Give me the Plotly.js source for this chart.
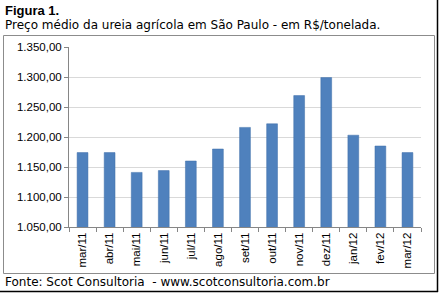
<!DOCTYPE html>
<html>
<head>
<meta charset="utf-8">
<script src="https://cdn.plot.ly/plotly-3.0.1.min.js"></script>
<style>
html,body{margin:0;padding:0;background:#fff;}
#chart{width:440px;height:293px;}
</style>
</head>
<body>
<div id="chart"></div>
<script>
var categories = ["mar/11","abr/11","mai/11","jun/11","jul/11","ago/11","set/11","out/11","nov/11","dez/11","jan/12","fev/12","mar/12"];
var prices = [1174, 1174, 1141, 1144, 1160, 1180, 1216, 1222, 1269, 1299, 1203, 1185, 1174];
var yTicks = [1050, 1100, 1150, 1200, 1250, 1300, 1350];
var figTitle = "Figura 1.";
var subTitle = "Preço médio da ureia agrícola em São Paulo - em R$/tonelada.";
var source = "Fonte: Scot Consultoria  - www.scotconsultoria.com.br";

// plot area in pixels: x 69..421, y 47..227
function px(x){ return (x - 69) / 352; }
function py(y){ return (227 - y) / 180; }

var trace = {
  type: "bar",
  x: categories,
  y: prices,
  marker: {color: "#4f81bd", line: {color: "#3f6fa8", width: 0.5}},
  hoverinfo: "x+y"
};

var layout = {
  width: 440, height: 293,
  margin: {l: 69, r: 19, t: 47, b: 66, pad: 0},
  paper_bgcolor: "#ffffff",
  plot_bgcolor: "#ffffff",
  separators: ",.",
  bargap: 0.6,
  showlegend: false,
  font: {family: "Liberation Sans, Arial, sans-serif", size: 11, color: "#000"},
  xaxis: {
    type: "category",
    tickson: "boundaries",
    ticks: "outside", ticklen: 4, tickcolor: "#868686",
    showline: true, linecolor: "#868686", linewidth: 1,
    showgrid: false,
    tickangle: -90,
    tickfont: {family: "Liberation Sans, Arial, sans-serif", size: 11.5, color: "#000"},
    automargin: false
  },
  yaxis: {
    range: [1050, 1350],
    tickvals: yTicks,
    tickformat: ",.2f",
    ticks: "outside", ticklen: 4, tickcolor: "#868686",
    showline: true, linecolor: "#868686", linewidth: 1,
    showgrid: true, gridcolor: "#d9d9d9", gridwidth: 1,
    zeroline: false,
    tickfont: {family: "Liberation Sans, Arial, sans-serif", size: 11.5, color: "#000"},
    automargin: false
  },
  shapes: [
    {type: "rect", xref: "paper", yref: "paper",
     x0: px(3.5), x1: px(434.5), y0: py(273.5), y1: py(35.5),
     line: {color: "#8c8c8c", width: 1}, fillcolor: "rgba(0,0,0,0)", layer: "below"},
    {type: "line", xref: "paper", yref: "paper",
     x0: px(437.5), x1: px(437.5), y0: py(0), y1: py(292),
     line: {color: "#000", width: 1.5}},
    {type: "line", xref: "paper", yref: "paper",
     x0: px(0), x1: px(438), y0: py(291.5), y1: py(291.5),
     line: {color: "#000", width: 1.5}}
  ],
  annotations: [
    {text: "<b>" + figTitle + "</b>", xref: "paper", yref: "paper",
     x: px(3), y: py(10), xanchor: "left", yanchor: "middle", showarrow: false,
     font: {family: "Liberation Sans, Arial, sans-serif", size: 13, color: "#000"}},
    {text: subTitle, xref: "paper", yref: "paper",
     x: px(3), y: py(25), xanchor: "left", yanchor: "middle", showarrow: false,
     font: {family: "DejaVu Sans, sans-serif", size: 12, color: "#000"}},
    {text: source, xref: "paper", yref: "paper",
     x: px(3), y: py(282), xanchor: "left", yanchor: "middle", showarrow: false,
     font: {family: "DejaVu Sans, sans-serif", size: 12, color: "#000"}}
  ]
};

Plotly.newPlot("chart", [trace], layout, {displayModeBar: false, staticPlot: true});
</script>
</body>
</html>
